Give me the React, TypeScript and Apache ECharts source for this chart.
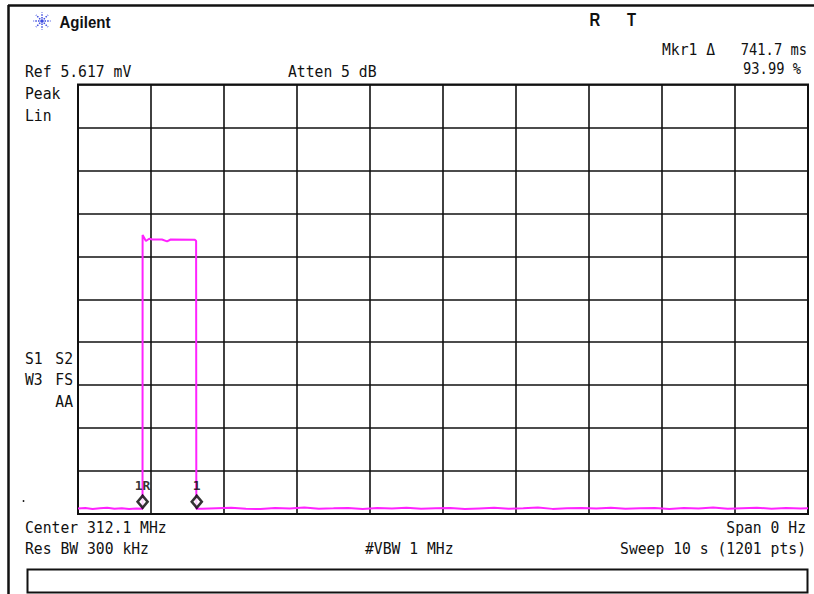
import React, { useEffect, useRef } from "react";
import * as echarts from "echarts";

// Sweep time (s) and trace amplitude (mV)
const PRE_TIMES = [0, 0.1, 0.2, 0.3, 0.4, 0.5, 0.6, 0.7, 0.8, 0.884];
const PRE_VALUES = [0.072, 0.078, 0.066, 0.074, 0.081, 0.069, 0.076, 0.064, 0.073, 0.07];
const PULSE_TIMES = [0.885, 0.93, 0.975, 1.02, 1.15, 1.22, 1.27, 1.6, 1.618, 1.621];
const PULSE_VALUES = [3.65, 3.57, 3.6, 3.59, 3.59, 3.565, 3.59, 3.588, 3.57, 0.07];
const POST_TIMES = [
  1.7, 1.9, 2.1, 2.3, 2.5, 2.7, 2.9, 3.1, 3.3, 3.5, 3.7, 3.9, 4.1, 4.3, 4.5, 4.7, 4.9, 5.1, 5.3,
  5.5, 5.7, 5.9, 6.1, 6.3, 6.5, 6.7, 6.9, 7.1, 7.3, 7.5, 7.7, 7.9, 8.1, 8.3, 8.5, 8.7, 8.9, 9.1,
  9.3, 9.5, 9.7, 9.9, 10,
];
const POST_VALUES = [
  0.068, 0.075, 0.082, 0.07, 0.064, 0.078, 0.072, 0.085, 0.069, 0.074, 0.08, 0.066, 0.077, 0.071,
  0.083, 0.068, 0.075, 0.079, 0.065, 0.073, 0.081, 0.07, 0.076, 0.084, 0.067, 0.074, 0.079, 0.071,
  0.082, 0.068, 0.075, 0.08, 0.066, 0.078, 0.072, 0.085, 0.069, 0.076, 0.081, 0.07, 0.077, 0.073,
  0.074,
];
const MARKER_TIMES = [0.885, 1.627];
const MARKER_VALUES = [0.07, 0.07];
const MARKER_LABELS = ["1R", "1"];

const REF_LEVEL = 5.617; // mV
const SWEEP = 10; // s

const MONO = "'DejaVu Sans Mono', monospace";
const SANS = "'Liberation Sans', Arial, sans-serif";

function txt(text: string, x: number, y: number, align: string = "left", sx: number = 0.92) {
  return {
    type: "text",
    x,
    y,
    scaleX: sx,
    style: {
      text,
      fill: "#111",
      font: `16px ${MONO}`,
      textAlign: align,
      textVerticalAlign: "middle",
    },
    silent: true,
  };
}

export default function App() {
  const ref = useRef<HTMLDivElement>(null);
  useEffect(() => {
    const chart = echarts.init(ref.current!, undefined, { renderer: "svg" });
    const trace: number[][] = [];
    PRE_TIMES.forEach((t, i) => trace.push([t, PRE_VALUES[i]]));
    PULSE_TIMES.forEach((t, i) => trace.push([t, PULSE_VALUES[i]]));
    POST_TIMES.forEach((t, i) => trace.push([t, POST_VALUES[i]]));

    const star: any[] = [];
    const cx = 42,
      cy = 21;
    for (let k = 0; k < 8; k++) {
      const a = (k * Math.PI) / 4;
      star.push({
        type: "line",
        shape: {
          x1: cx + Math.cos(a) * 2.5,
          y1: cy + Math.sin(a) * 2.5,
          x2: cx + Math.cos(a) * 8.5,
          y2: cy + Math.sin(a) * 8.5,
        },
        style: { stroke: "#3a48e0", lineWidth: 1.5, lineDash: [1.5, 1.2] },
        silent: true,
      });
    }
    star.push({ type: "circle", shape: { cx, cy, r: 1.8 }, style: { fill: "#3a48e0" }, silent: true });

    chart.setOption({
      animation: false,
      backgroundColor: "#fff",
      grid: {
        left: 78,
        top: 84.5,
        width: 730,
        height: 429.5,
        show: true,
        borderColor: "#111",
        borderWidth: 2,
        backgroundColor: "transparent",
      },
      xAxis: {
        type: "value",
        min: 0,
        max: SWEEP,
        interval: 1,
        axisLine: { show: false },
        axisTick: { show: false },
        axisLabel: { show: false },
        splitLine: { show: true, lineStyle: { color: "#111", width: 1.6 } },
      },
      yAxis: {
        type: "value",
        min: 0,
        max: REF_LEVEL,
        interval: REF_LEVEL / 10,
        axisLine: { show: false },
        axisTick: { show: false },
        axisLabel: { show: false },
        splitLine: { show: true, lineStyle: { color: "#111", width: 1.6 } },
      },
      series: [
        {
          type: "line",
          data: trace,
          showSymbol: false,
          lineStyle: { color: "#ff22ff", width: 2 },
          itemStyle: { color: "#ff22ff" },
          z: 3,
        },
        {
          type: "scatter",
          data: MARKER_TIMES.map((t, i) => ({
            value: [t, MARKER_VALUES[i]],
            label: { formatter: MARKER_LABELS[i] },
          })),
          symbol: "diamond",
          symbolSize: [10, 12],
          symbolOffset: [0, -7],
          itemStyle: { color: "#fff", borderColor: "#000", borderWidth: 2.6 },
          label: {
            show: true,
            position: "top",
            distance: 2,
            color: "#000",
            textBorderWidth: 0,
            fontFamily: MONO,
            fontSize: 13,
            fontWeight: "bold",
          },
          z: 4,
        },
      ],
      graphic: [
        { type: "line", shape: { x1: 8, y1: 5.5, x2: 814, y2: 5.5 }, style: { stroke: "#111", lineWidth: 2.5 }, silent: true },
        { type: "line", shape: { x1: 8.5, y1: 5, x2: 8.5, y2: 594 }, style: { stroke: "#111", lineWidth: 2.5 }, silent: true },
        { type: "rect", shape: { x: 27.5, y: 569.5, width: 780, height: 23 }, style: { fill: "none", stroke: "#111", lineWidth: 2 }, silent: true },
        ...star,
        {
          type: "text",
          x: 59.5,
          y: 22,
          scaleX: 0.94,
          style: { text: "Agilent", fill: "#111", font: `bold 16px ${SANS}`, textVerticalAlign: "middle" },
          silent: true,
        },
        {
          type: "text",
          x: 589.5,
          y: 19.5,
          scaleX: 0.78,
          style: { text: "R", fill: "#111", font: `bold 19px ${SANS}`, textVerticalAlign: "middle" },
          silent: true,
        },
        {
          type: "text",
          x: 627,
          y: 19.5,
          scaleX: 0.78,
          style: { text: "T", fill: "#111", font: `bold 19px ${SANS}`, textVerticalAlign: "middle" },
          silent: true,
        },
        txt("Mkr1 \u0394", 662, 50),
        txt("741.7 ms", 807, 50, "right", 0.86),
        txt("93.99 %", 801, 69, "right", 0.86),
        txt("Ref 5.617 mV", 25, 71.5),
        txt("Atten 5 dB", 288, 71.5),
        txt("Peak", 25, 93.5),
        txt("Lin", 25, 116),
        txt("S1", 25, 358.5),
        txt("S2", 73, 358.5, "right"),
        txt("W3", 25, 380),
        txt("FS", 73, 380, "right"),
        txt("AA", 73, 401.5, "right"),
        { type: "circle", shape: { cx: 23.5, cy: 501, r: 0.9 }, style: { fill: "#111" }, silent: true },
        txt("Center 312.1 MHz", 25, 528),
        txt("Span 0 Hz", 806, 528, "right"),
        txt("Res BW 300 kHz", 25, 549),
        txt("#VBW 1 MHz", 365, 549),
        txt("Sweep 10 s (1201 pts)", 806, 549, "right"),
      ],
    });
    return () => chart.dispose();
  }, []);
  return (
    <div
      ref={ref}
      style={{ position: "absolute", left: 0, top: 0, width: 814, height: 594 }}
    />
  );
}
